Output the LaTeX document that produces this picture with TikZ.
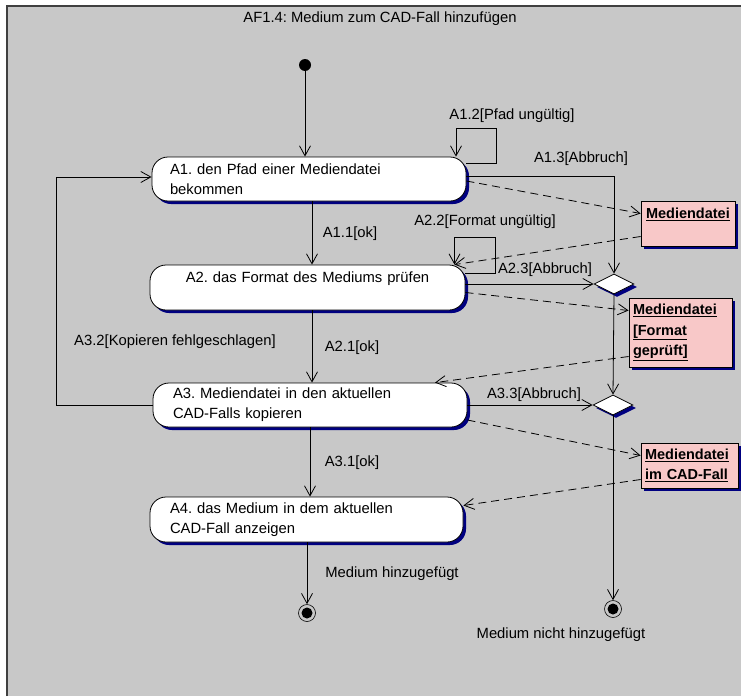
\documentclass[tikz,border=0pt]{standalone}
\usepackage{fontspec}
\setmainfont{Liberation Sans}
\usetikzlibrary{arrows.meta,shapes.geometric,shadows,calc}
\definecolor{panel}{RGB}{200,200,200}
\definecolor{objfill}{RGB}{248,200,200}
\definecolor{shade}{RGB}{0,0,128}
\definecolor{framecol}{RGB}{64,64,64}
\frenchspacing
\begin{document}
\begin{tikzpicture}[x=1pt,y=-1pt,
  font=\fontsize{14.8}{20}\selectfont,
  navyshadow/.style={general shadow={fill=shade, shadow xshift=3pt, shadow yshift=-3pt}},
  act/.style={draw=black, fill=white, line width=0.8pt, rounded corners=16pt,
    navyshadow, minimum height=44pt, inner xsep=18pt, inner ysep=0pt,
    text width=278pt, align=left},
  obj/.style={draw=black, fill=objfill, line width=0.8pt, navyshadow,
    inner xsep=5pt, inner ysep=0pt, align=left, font=\fontsize{14.5}{20.5}\selectfont\bfseries},
  choice/.style={draw=black, fill=white, line width=0.8pt, diamond, navyshadow,
    minimum width=40pt, minimum height=20pt, inner sep=0pt},
  startnode/.style={circle, fill=black, minimum size=12pt, inner sep=0pt},
  endnode/.style={circle, draw=black, line width=0.6pt, fill=panel, minimum size=17pt, inner sep=0pt,
    path picture={\fill[black] (path picture bounding box.center) circle (5.5pt);}},
  lbl/.style={inner sep=0pt},
  flow/.style={draw=black, line width=0.8pt,
    -{Straight Barb[length=10pt,width=11pt,line width=0.8pt]}},
  dep/.style={flow, dash pattern=on 8pt off 5pt}]

% page and diagram frame
\useasboundingbox (0,0) rectangle (741,696);
\fill[white] (0,0) rectangle (741,696);
\fill[panel] (7,6) rectangle (741,696);
\draw[framecol, line width=2pt] (7,696) -- (7,6) -- (741,6);
\node[lbl] (title) at (380,19) {AF1.4: Medium zum CAD-Fall hinzufügen};

% activities
\node[startnode] (start) at (305,65) {};
\node[act] (A1) at (309,179) {A1. den Pfad einer Mediendatei\\bekommen};
\node[act, minimum height=45pt, align=center, inner xsep=10pt, text width=295pt] (A2) at (307.5,287.5)
  {A2. das Format des Mediums prüfen\\\mbox{}};
\node[act, inner xsep=20pt, text width=274pt] (A3) at (310,405) {A3. Mediendatei in den aktuellen\\CAD-Falls kopieren};
\node[act, minimum height=45pt, inner xsep=20pt, text width=273pt] (A4) at (306.5,519.5) {A4. das Medium in dem aktuellen\\CAD-Fall anzeigen};

% decisions
\node[choice] (D1) at (614,284) {};
\node[choice] (D2) at (613,405) {};

% object flows
\node[obj, text width=84pt, minimum height=45pt] (O1) at (688,223.5) {\underline{Mediendatei}\\\mbox{}};
\node[obj, inner xsep=4pt, text width=95pt, minimum height=69pt] (O2) at (680.5,332.5)
  {\underline{Mediendatei}\\\underline{[Format}\\\underline{geprüft]}};
\node[obj, inner xsep=4pt, text width=89pt, minimum height=45pt] (O3) at (689.5,465.5)
  {\underline{Mediendatei}\\\underline{im CAD-Fall}};

% final states
\node[endnode] (F1) at (307,613) {};
\node[endnode] (F2) at (613,609) {};

% control flow
\draw[flow] (start) -- (start |- A1.north);
\draw[flow] ([yshift=16pt]A1.east) -- ++(30,0) -- ++(0,-35) -| ([xshift=147pt]A1.north);
\draw[flow] ([yshift=3pt]A1.east) -| (D1.north);
\draw[flow] ([xshift=3pt]A1.south) -- ([xshift=3pt]A1.south |- A2.north);
\draw[flow] ([yshift=14.5pt]A2.east) -- ++(30,0) -- ++(0,-36) -| ([xshift=147pt]A2.north);
\draw[flow] (A2.east |- D1.west) -- (D1.west);
\draw[flow] ([xshift=4.5pt]A2.south) -- ([xshift=4.5pt]A2.south |- A3.north);
\draw[flow] (D1.south) -- (D2.north);
\draw[flow] (A3.west) -- ++(-96,0) |- ([yshift=2pt]A1.west);
\draw[flow] (A3.east |- D2.west) -- (D2.west);
\draw[flow] (A3.south) -- (A3.south |- A4.north);
\draw[flow] (A4.south -| F1) -- (F1.north);
\draw[flow] (D2.south) -- (F2.north);

% object dependencies
\draw[dep] ([yshift=-2pt]A1.east) -- ([yshift=10pt]O1.west);
\draw[dep] ([yshift=-13pt]O1.west) -- ([xshift=147pt]A2.north);
\draw[dep] ([yshift=-5pt]A2.east) -- ([yshift=22pt]O2.west);
\draw[dep] ([yshift=-24pt]O2.west) -- ([xshift=125pt]A3.north);
\draw[dep] ([yshift=-15pt]A3.east) -- ([yshift=10pt]O3.west);
\draw[dep] ([yshift=-14pt]O3.west) -- ([yshift=14pt]A4.east);

% guard labels
\node[lbl] (l12) at (512,116) {A1.2[Pfad ungültig]};
\node[lbl] (l13) at (581,159) {A1.3[Abbruch]};
\node[lbl] (l11) at (350,234) {A1.1[ok]};
\node[lbl] (l22) at (485,222) {A2.2[Format ungültig]};
\node[lbl] (l23) at (545,270) {A2.3[Abbruch]};
\node[lbl] (l21) at (352,348) {A2.1[ok]};
\node[lbl] (l32) at (175,342) {A3.2[Kopieren fehlgeschlagen]};
\node[lbl] (l33) at (534,395) {A3.3[Abbruch]};
\node[lbl] (l31) at (352,463) {A3.1[ok]};
\node[lbl] (lf1) at (392,574) {Medium hinzugefügt};
\node[lbl] (lf2) at (561,635) {Medium nicht hinzugefügt};
\end{tikzpicture}
\end{document}
